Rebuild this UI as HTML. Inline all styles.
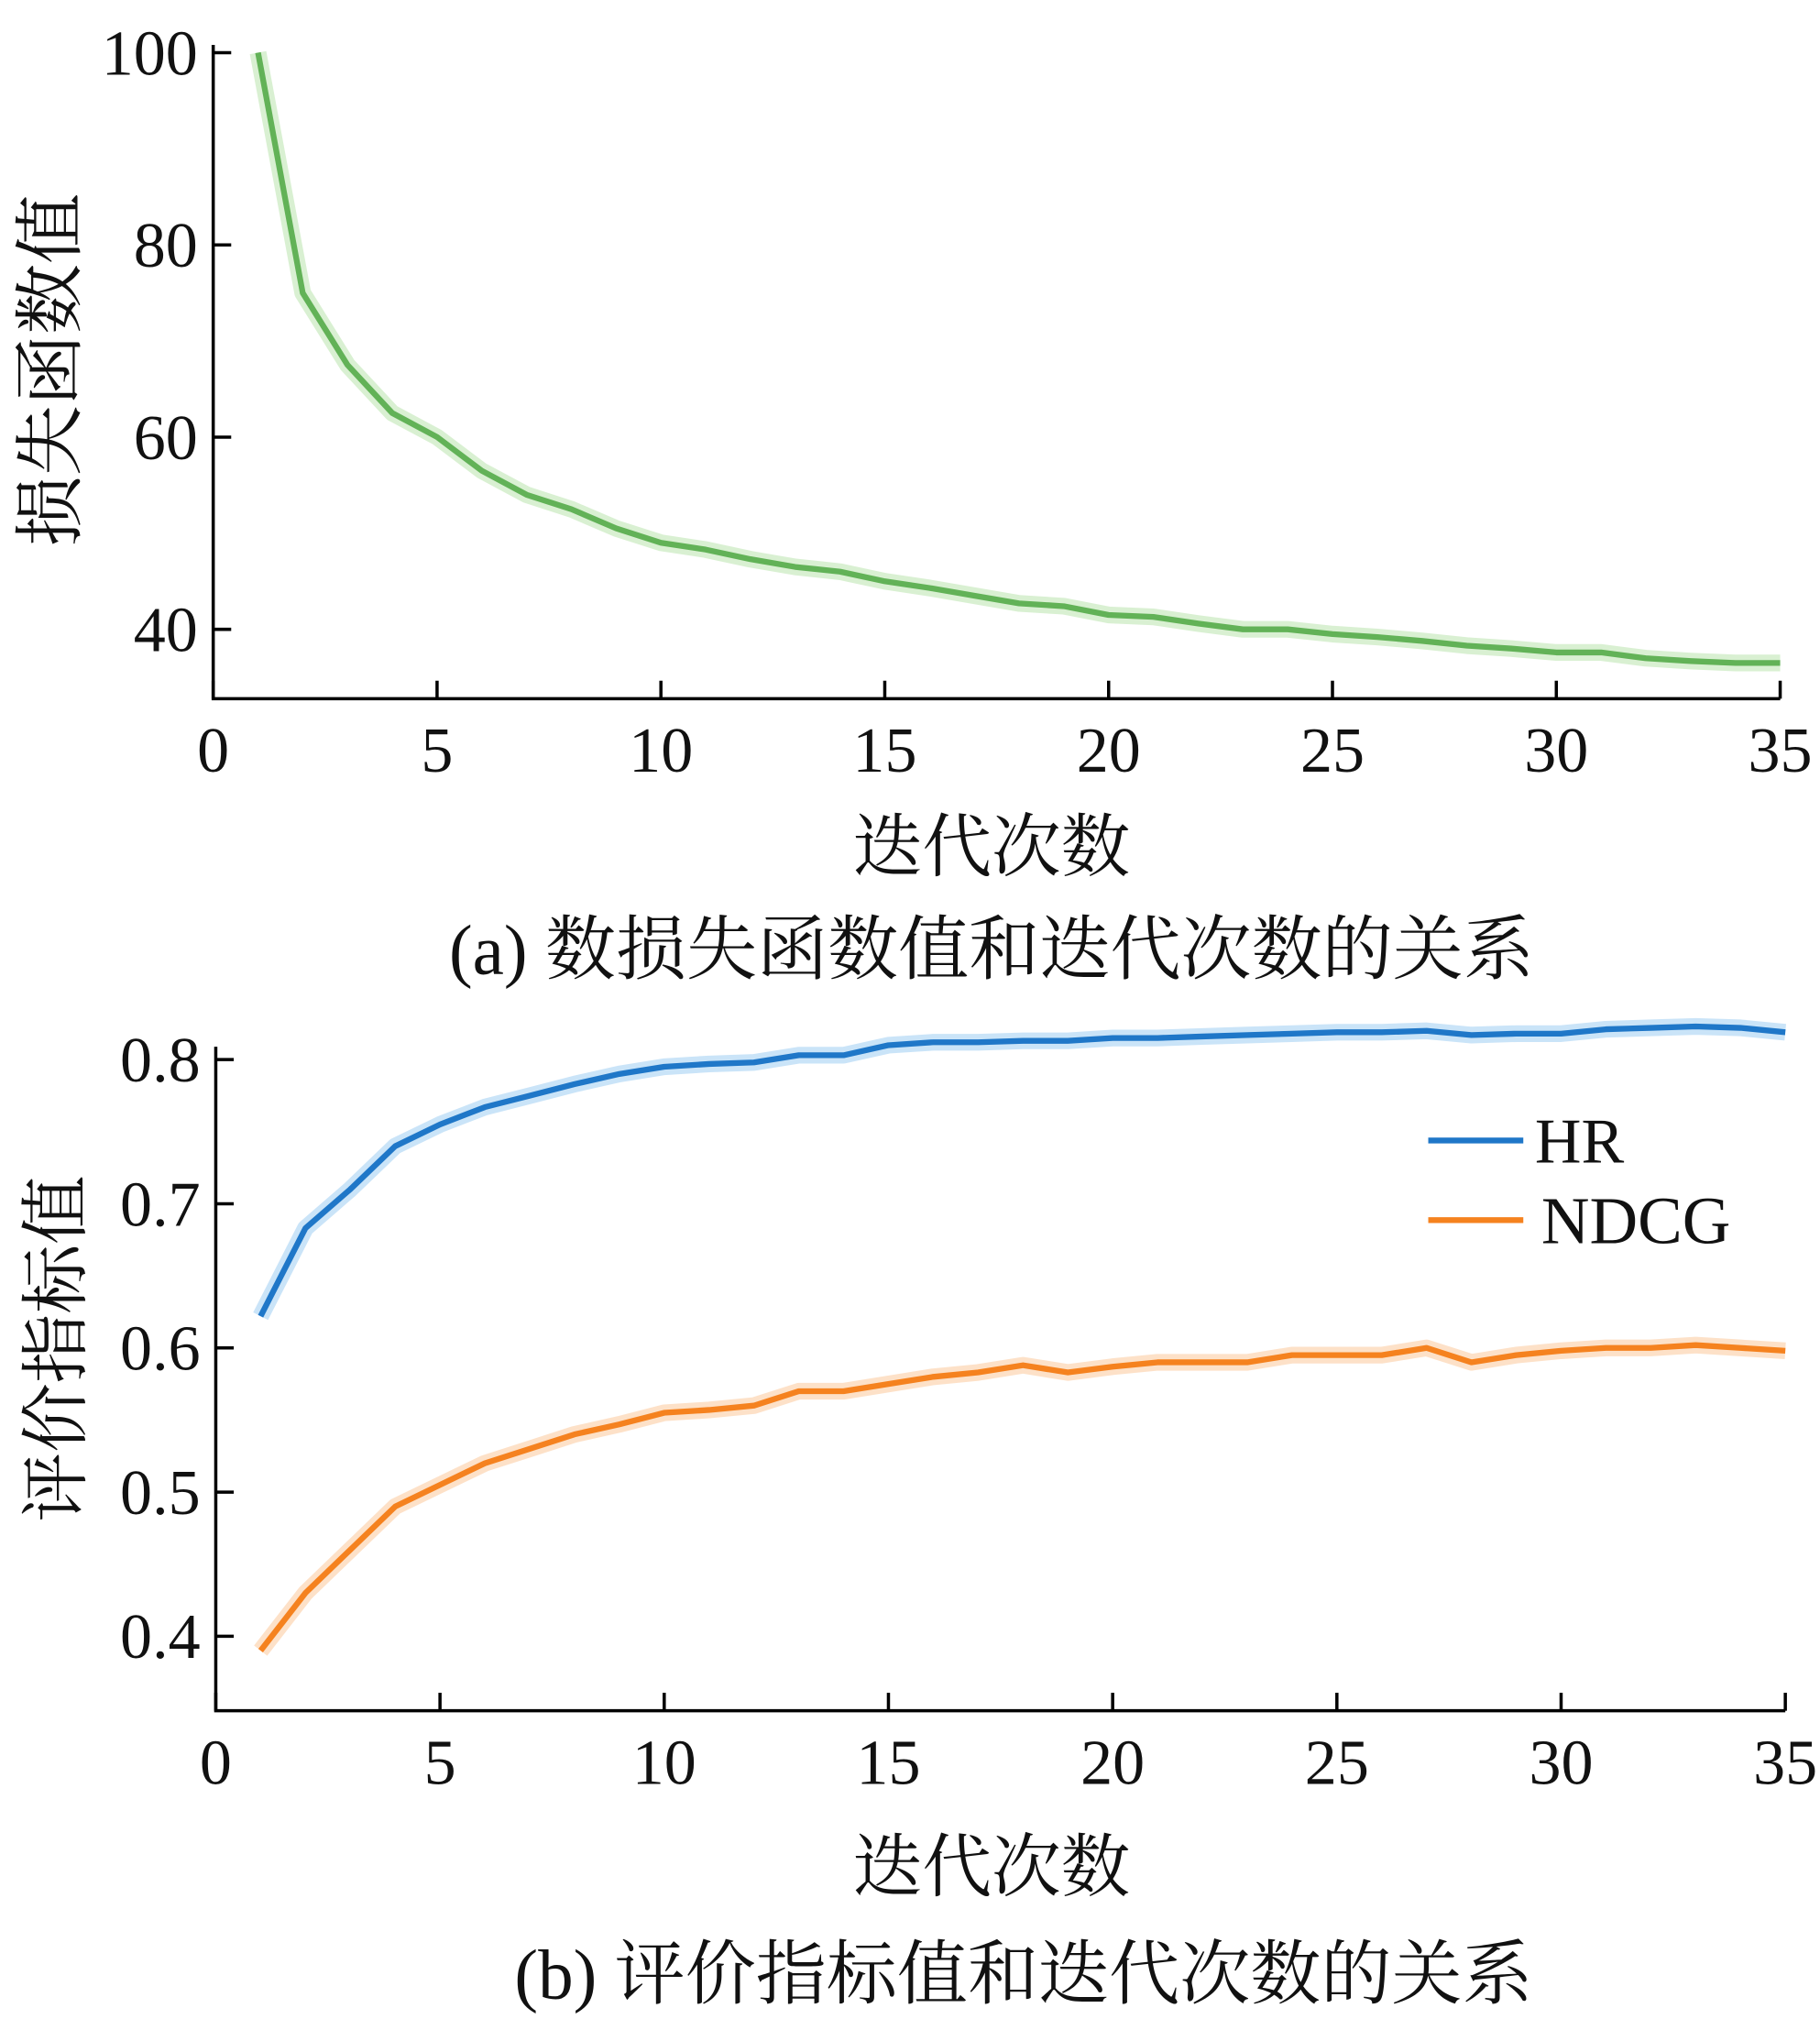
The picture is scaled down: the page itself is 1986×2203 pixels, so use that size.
<!DOCTYPE html>
<html><head><meta charset="utf-8">
<style>
html,body{margin:0;padding:0;background:#fff;}
svg{display:block;}
text{font-family:"Liberation Serif","Noto Serif CJK SC","Noto Sans CJK SC",serif;fill:#111;}
</style></head>
<body>
<svg id="chart" width="1986" height="2203" viewBox="0 0 1417 1572" preserveAspectRatio="none" xmlns="http://www.w3.org/2000/svg">
<g id="pa"></g>
<g id="pb"></g>
<text x="772" y="678" font-size="54" text-anchor="middle">迭代次数</text>
<text x="772" y="758" font-size="55" text-anchor="middle">(a) 数损失函数值和迭代次数的关系</text>
<text transform="translate(58,288) rotate(-90)" font-size="55" text-anchor="middle">损失函数值</text>
<text x="772" y="1472" font-size="54" text-anchor="middle">迭代次数</text>
<text x="797" y="1556" font-size="55" text-anchor="middle">(b) 评价指标值和迭代次数的关系</text>
<text transform="translate(62,1050) rotate(-90)" font-size="54" text-anchor="middle">评价指标值</text>
<line x1="1112" y1="888" x2="1186" y2="888" stroke="#1f77c8" stroke-width="4.5"/>
<text x="1195" y="905" font-size="50">HR</text>
<line x1="1112" y1="950" x2="1186" y2="950" stroke="#f5821f" stroke-width="4.5"/>
<text x="1200" y="968" font-size="52">NDCG</text>
</svg>
<script>
const xTicks=[0,5,10,15,20,25,30,35];
const lossTicks=[40,60,80,100];
const metricTicks=[0.4,0.5,0.6,0.7,0.8];
const epochs=[1,2,3,4,5,6,7,8,9,10,11,12,13,14,15,16,17,18,19,20,21,22,23,24,25,26,27,28,29,30,31,32,33,34,35];
const lossValues=[100,75,67.5,62.5,60,56.5,54,52.5,50.5,49,48.3,47.3,46.5,46,45,44.3,43.5,42.7,42.4,41.5,41.3,40.6,40,40,39.5,39.2,38.8,38.3,38,37.6,37.6,37,36.7,36.5,36.5];
const hrValues=[0.622,0.683,0.71,0.74,0.755,0.767,0.775,0.783,0.79,0.795,0.797,0.798,0.803,0.803,0.81,0.812,0.812,0.813,0.813,0.815,0.815,0.816,0.817,0.818,0.819,0.819,0.82,0.817,0.818,0.818,0.821,0.822,0.823,0.822,0.819];
const ndcgValues=[0.39,0.43,0.46,0.49,0.505,0.52,0.53,0.54,0.547,0.555,0.557,0.56,0.57,0.57,0.575,0.58,0.583,0.588,0.583,0.587,0.59,0.59,0.59,0.595,0.595,0.595,0.6,0.59,0.595,0.598,0.6,0.6,0.602,0.6,0.598];

const NS="http://www.w3.org/2000/svg";
function mk(parent,tag,attrs){const e=document.createElementNS(NS,tag);for(const k in attrs)e.setAttribute(k,attrs[k]);parent.appendChild(e);return e;}

function drawAxes(g,cfg){
  const xs=v=>cfg.x0+(v-0)*(cfg.x1-cfg.x0)/35;
  const ys=v=>cfg.yA+(v-cfg.vA)*(cfg.yB-cfg.yA)/(cfg.vB-cfg.vA);
  const ax=mk(g,'path',{d:`M${cfg.x0},${cfg.top}V${cfg.bottom}H${cfg.x1}`,fill:'none',stroke:'#000','stroke-width':2.5});
  
  
  xTicks.forEach(t=>{
    const l=mk(g,'line',{x1:xs(t),x2:xs(t),y1:cfg.bottom,y2:cfg.bottom-14,stroke:'#000','stroke-width':2.5});
    
    
    const tx=mk(g,'text',{x:xs(t),y:cfg.bottom+57,'font-size':50,'text-anchor':'middle'});
    tx.textContent=t;
    
    
  });
  cfg.ticks.forEach(t=>{
    const l=mk(g,'line',{x1:cfg.x0,x2:cfg.x0+14,y1:ys(t),y2:ys(t),stroke:'#000','stroke-width':2.5});
    
    
    const tx=mk(g,'text',{x:cfg.x0-12,y:ys(t)+17,'font-size':50,'text-anchor':'end'});
    tx.textContent=cfg.fmt(t);
    
    
  });
  return {xs,ys};
}
function series(g,sc,vals,color,light,name){
  const d=vals.map((v,i)=>(i?'L':'M')+sc.xs(epochs[i]).toFixed(1)+','+sc.ys(v).toFixed(1)).join('');
  const b=mk(g,'path',{d,fill:'none',stroke:light,'stroke-width':13,'stroke-linejoin':'round',opacity:0.55});
  
  
  const p=mk(g,'path',{d,fill:'none',stroke:color,'stroke-width':4.5,'stroke-linejoin':'round'});
  
  
}
const ga=document.getElementById('pa');
const sa=drawAxes(ga,{x0:166,x1:1386,top:35,bottom:544,yA:41,vA:100,yB:490,vB:40,ticks:lossTicks,fmt:t=>String(t)});
series(ga,sa,lossValues,'#62b257','#b9e3ad','loss');
const gb=document.getElementById('pb');
const sb=drawAxes(gb,{x0:168,x1:1390,top:815,bottom:1332,yA:825,vA:0.8,yB:1274,vB:0.4,ticks:metricTicks,fmt:t=>t.toFixed(1)});
series(gb,sb,hrValues,'#1f77c8','#9fcdf2','hr');
series(gb,sb,ndcgValues,'#f5821f','#fbc99a','ndcg');
</script>
</body></html>
